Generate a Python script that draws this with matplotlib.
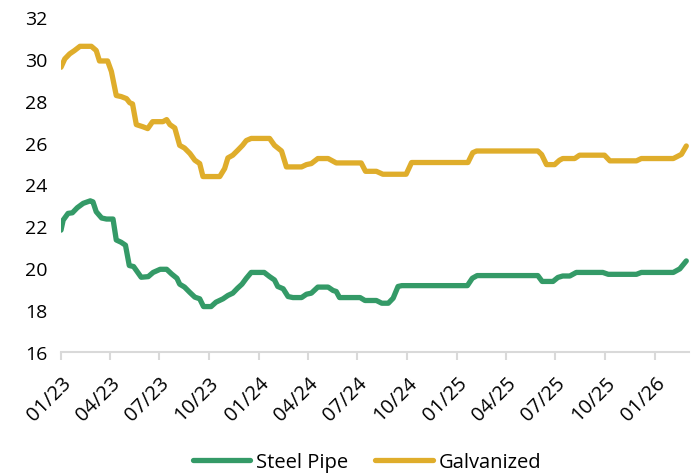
import matplotlib
matplotlib.use("Agg")
import matplotlib.pyplot as plt
import matplotlib.dates as mdates
import pandas as pd

plt.rcParams['font.family'] = ['Open Sans', 'DejaVu Sans']

# ---- data ----
galv_dates = ["2023-01-01", "2023-01-08", "2023-01-17", "2023-01-26", "2023-02-05", "2023-02-26",
              "2023-03-07", "2023-03-13", "2023-03-28", "2023-04-04", "2023-04-13", "2023-04-22",
              "2023-05-02", "2023-05-08", "2023-05-13", "2023-05-20", "2023-06-01", "2023-06-10",
              "2023-06-19", "2023-07-08", "2023-07-15", "2023-07-21", "2023-07-30", "2023-08-08",
              "2023-08-17", "2023-08-27", "2023-09-05", "2023-09-14", "2023-09-20", "2023-10-21",
              "2023-10-30", "2023-11-05", "2023-11-14", "2023-11-23", "2023-12-02", "2023-12-09",
              "2023-12-18", "2024-01-21", "2024-01-30", "2024-02-12", "2024-02-21", "2024-03-20",
              "2024-03-29", "2024-04-07", "2024-04-19", "2024-05-08", "2024-05-23", "2024-07-08",
              "2024-07-16", "2024-08-05", "2024-08-17", "2024-09-29", "2024-10-09", "2025-01-21",
              "2025-01-30", "2025-02-06", "2025-05-30", "2025-06-06", "2025-06-15", "2025-06-30",
              "2025-07-09", "2025-07-15", "2025-08-06", "2025-08-15", "2025-09-30", "2025-10-10",
              "2025-11-28", "2025-12-07", "2026-02-04", "2026-02-19", "2026-02-28"]
galv_values = [29.6, 30.0, 30.24, 30.4, 30.6, 30.6,
               30.4, 29.9, 29.9, 29.4, 28.25, 28.2,
               28.1, 27.9, 27.85, 26.86, 26.76, 26.67,
               27.0, 27.0, 27.1, 26.86, 26.7, 25.87,
               25.74, 25.48, 25.16, 25.0, 24.38, 24.38,
               24.76, 25.27, 25.4, 25.63, 25.87, 26.1,
               26.2, 26.2, 25.87, 25.6, 24.84, 24.84,
               24.95, 25.0, 25.24, 25.24, 25.03, 25.03,
               24.63, 24.63, 24.49, 24.49, 25.05, 25.05,
               25.52, 25.6, 25.6, 25.43, 24.95, 24.95,
               25.16, 25.24, 25.24, 25.4, 25.4, 25.13,
               25.13, 25.24, 25.24, 25.44, 25.84]

steel_dates = ["2023-01-01", "2023-01-05", "2023-01-14", "2023-01-22", "2023-01-31", "2023-02-11",
               "2023-02-24", "2023-03-01", "2023-03-07", "2023-03-17", "2023-03-26", "2023-04-07",
               "2023-04-13", "2023-04-22", "2023-04-30", "2023-05-07", "2023-05-15", "2023-05-29",
               "2023-06-11", "2023-06-20", "2023-07-03", "2023-07-15", "2023-07-24", "2023-08-03",
               "2023-08-08", "2023-08-17", "2023-08-27", "2023-09-05", "2023-09-14", "2023-09-21",
               "2023-10-05", "2023-10-14", "2023-10-27", "2023-11-05", "2023-11-14", "2023-11-23",
               "2023-12-01", "2023-12-09", "2023-12-18", "2024-01-11", "2024-01-21", "2024-01-30",
               "2024-02-05", "2024-02-15", "2024-02-24", "2024-03-04", "2024-03-20", "2024-03-29",
               "2024-04-07", "2024-04-19", "2024-05-08", "2024-05-17", "2024-05-23", "2024-05-29",
               "2024-07-06", "2024-07-15", "2024-08-05", "2024-08-15", "2024-08-27", "2024-09-05",
               "2024-09-14", "2024-09-21", "2025-01-20", "2025-01-29", "2025-02-07", "2025-05-30",
               "2025-06-07", "2025-06-27", "2025-07-06", "2025-07-15", "2025-07-28", "2025-08-09",
               "2025-09-27", "2025-10-07", "2025-11-28", "2025-12-07", "2026-02-04", "2026-02-16",
               "2026-02-28"]
steel_values = [21.82, 22.3, 22.62, 22.65, 22.89, 23.1,
                23.22, 23.17, 22.7, 22.4, 22.35, 22.35,
                21.35, 21.24, 21.1, 20.13, 20.08, 19.57,
                19.6, 19.8, 19.95, 19.95, 19.73, 19.52,
                19.24, 19.1, 18.84, 18.62, 18.54, 18.17,
                18.17, 18.38, 18.54, 18.7, 18.81, 19.05,
                19.24, 19.52, 19.8, 19.8, 19.6, 19.44,
                19.13, 19.02, 18.65, 18.6, 18.6, 18.76,
                18.81, 19.1, 19.1, 18.94, 18.89, 18.6,
                18.6, 18.46, 18.46, 18.33, 18.33, 18.57,
                19.13, 19.17, 19.17, 19.52, 19.65, 19.65,
                19.37, 19.37, 19.56, 19.63, 19.63, 19.8,
                19.8, 19.71, 19.71, 19.8, 19.8, 19.97,
                20.35]

tick_dates = ["2023-01-01", "2023-04-01", "2023-07-01", "2023-10-01", "2024-01-01", "2024-04-01",
              "2024-07-01", "2024-10-01", "2025-01-01", "2025-04-01", "2025-07-01", "2025-10-01",
              "2026-01-01"]
tick_labels = ["01/23", "04/23", "07/23", "10/23", "01/24", "04/24", "07/24", "10/24",
               "01/25", "04/25", "07/25", "10/25", "01/26"]
y_ticks = [16, 18, 20, 22, 24, 26, 28, 30, 32]

GREEN = "#349a67"
GOLD = "#dfad2b"

fig = plt.figure(figsize=(6.99, 4.77), dpi=100)
ax = fig.add_axes([61/699, 1-353/477, (689-61)/699, (353-18)/477])

ax.plot(pd.to_datetime(steel_dates), steel_values, color=GREEN, lw=3.8,
        solid_capstyle='round', solid_joinstyle='round', label="Steel Pipe")
ax.plot(pd.to_datetime(galv_dates), galv_values, color=GOLD, lw=3.8,
        solid_capstyle='round', solid_joinstyle='round', label="Galvanized")

ax.set_ylim(16, 32)
ax.set_yticks(y_ticks)
ax.set_xlim(pd.Timestamp("2023-01-01"), pd.Timestamp("2026-03-05"))
ax.set_xticks(pd.to_datetime(tick_dates))
ax.set_xticklabels(tick_labels, rotation=45, ha='right', rotation_mode='anchor')

for s in ['top', 'right', 'left']:
    ax.spines[s].set_visible(False)
ax.spines['bottom'].set_color('#d9d9d9')
ax.spines['bottom'].set_linewidth(1.5)
ax.tick_params(axis='x', colors='#d9d9d9', length=6, width=1.5, labelcolor='black',
               labelsize=14.5, pad=9)
ax.tick_params(axis='y', length=0, labelsize=14, pad=10)
for lab in ax.get_yticklabels():
    lab.set_horizontalalignment('right')

leg = fig.legend(loc='center', bbox_to_anchor=(367/699, 1-463/477), ncol=2, frameon=False,
                 fontsize=14.5, handlelength=2.85, columnspacing=1.35, handletextpad=0.3)

fig.savefig("out.png", dpi=100)
